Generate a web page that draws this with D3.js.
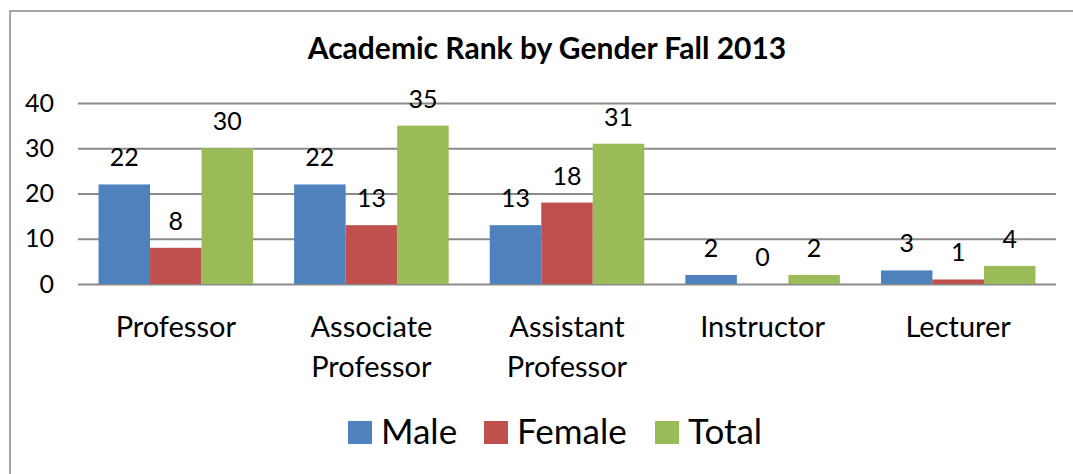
<!DOCTYPE html>
<html>
<head>
<meta charset="utf-8">
<script src="https://cdn.jsdelivr.net/npm/d3@7"></script>
<style>
  body { margin: 0; background: #fff; }
  svg { display: block; font-family: Lato, "Open Sans", sans-serif; }
</style>
</head>
<body>
<div id="chart"></div>
<script>
// Chart data
var categories = [["Professor"], ["Associate", "Professor"], ["Assistant", "Professor"], ["Instructor"], ["Lecturer"]];
var seriesNames = ["Male", "Female", "Total"];
var male = [22, 22, 13, 2, 3];
var female = [8, 13, 18, 0, 1];
var total = [30, 35, 31, 2, 4];
var yTicks = [0, 10, 20, 30, 40];

var colors = ["#4F81BD", "#C0504D", "#9BBB59"];

var W = 1073, H = 474;
var margin = { top: 103, right: 17, bottom: 190, left: 78 };

var svg = d3.select("#chart").append("svg").attr("width", W).attr("height", H);

// outer border of the chart area
svg.append("rect")
  .attr("x", 10).attr("y", 11)
  .attr("width", W + 10).attr("height", H + 10)
  .attr("fill", "none").attr("stroke", "#898989").attr("stroke-width", 1.5);

svg.append("text")
  .attr("x", 547).attr("y", 59)
  .attr("text-anchor", "middle")
  .attr("font-weight", "bold").attr("font-size", 30)
  .text("Academic Rank by Gender Fall 2013");

var x0 = d3.scaleBand()
  .domain(d3.range(categories.length))
  .range([margin.left, W - margin.right])
  .paddingInner(0.21).paddingOuter(0.105);

var x1 = d3.scaleBand().domain(d3.range(3)).range([0, x0.bandwidth()]);

var y = d3.scaleLinear().domain([0, 40]).range([284, 103]);

// gridlines and y labels
var yAxis = d3.axisLeft(y).tickValues(yTicks).tickSize(-(W - margin.right - margin.left)).tickPadding(24);
var gy = svg.append("g").attr("transform", "translate(" + margin.left + ",0)").call(yAxis);
gy.select(".domain").remove();
gy.selectAll(".tick line").attr("stroke", "#8a8a8a").attr("stroke-width", 2);
gy.selectAll(".tick text").attr("font-size", 25).attr("fill", "#000").attr("font-family", "Lato, sans-serif");

var rows = categories.map(function (c, i) {
  return [male[i], female[i], total[i]];
});

var groups = svg.append("g").selectAll("g")
  .data(rows)
  .join("g")
  .attr("transform", function (d, i) { return "translate(" + x0(i) + ",0)"; });

groups.selectAll("rect")
  .data(function (d) { return d; })
  .join("rect")
  .attr("x", function (d, j) { return x1(j); })
  .attr("y", function (d) { return y(d); })
  .attr("width", x1.bandwidth())
  .attr("height", function (d) { return y(0) - y(d); })
  .attr("fill", function (d, j) { return colors[j]; });

groups.selectAll("text.val")
  .data(function (d) { return d; })
  .join("text")
  .attr("class", "val")
  .attr("x", function (d, j) { return x1(j) + x1.bandwidth() / 2; })
  .attr("y", function (d) { return y(d) - 18; })
  .attr("text-anchor", "middle")
  .attr("font-size", 25)
  .text(function (d) { return d; });

// category labels
var cat = svg.append("g").selectAll("text")
  .data(categories)
  .join("text")
  .attr("text-anchor", "middle")
  .attr("font-size", 29)
  .attr("x", function (d, i) { return x0(i) + x0.bandwidth() / 2; })
  .attr("y", 337);
cat.selectAll("tspan")
  .data(function (d) { return d; })
  .join("tspan")
  .attr("x", function () { return d3.select(this.parentNode).attr("x"); })
  .attr("dy", function (d, k) { return k === 0 ? 0 : 40; })
  .text(function (d) { return d; });

// legend
var legendX = [348, 484, 655];
var lg = svg.append("g").selectAll("g")
  .data(seriesNames)
  .join("g")
  .attr("transform", function (d, i) { return "translate(" + legendX[i] + ",421)"; });
lg.append("rect").attr("width", 24).attr("height", 23).attr("fill", function (d, i) { return colors[i]; });
lg.append("text").attr("x", 33).attr("y", 23).attr("font-size", 35).text(function (d) { return d; });
</script>
</body>
</html>
